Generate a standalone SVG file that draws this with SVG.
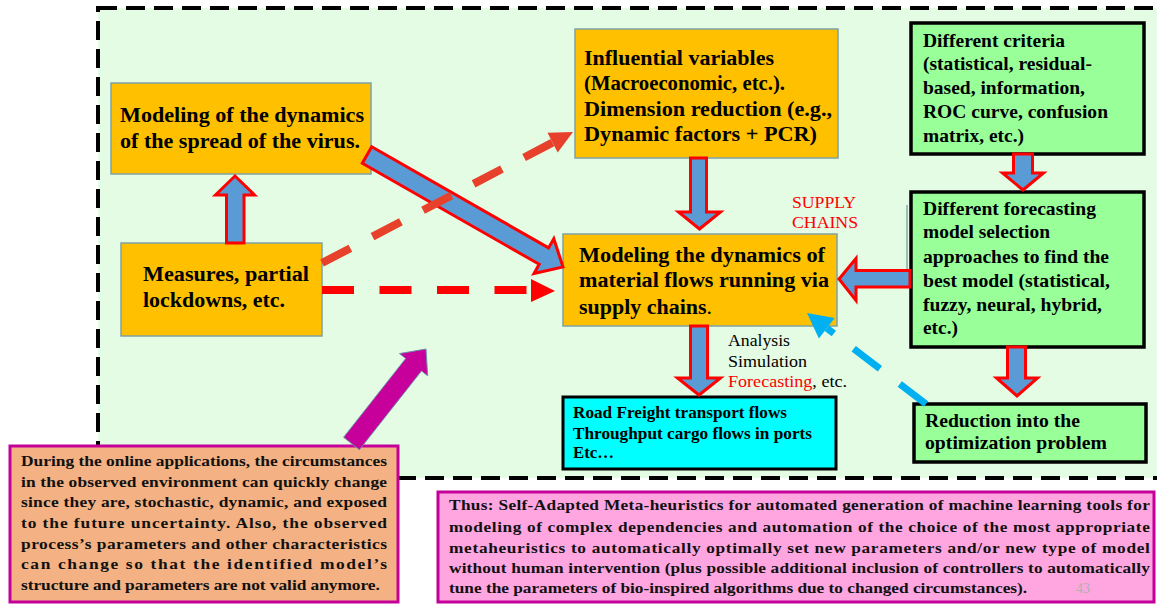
<svg xmlns="http://www.w3.org/2000/svg" width="1157" height="604" viewBox="0 0 1157 604">
<style>
.t{font-family:"Liberation Serif","Times New Roman",serif;font-weight:bold;fill:#000}
.p{font-family:"Liberation Serif","Times New Roman",serif;font-weight:bold;fill:#111}
.r{font-family:"Liberation Serif","Times New Roman",serif;font-weight:normal}
.f20{font-size:20px}
.f19{font-size:19px}
.f16{font-size:16.5px}
.org{fill:#ffc000;stroke:#7fa3a3;stroke-width:1.5}
.grn{fill:#99ff99;stroke:#000;stroke-width:3.5}
.blk{fill:#5b9bd5;stroke:#ff0000;stroke-width:3;stroke-linejoin:miter}
</style>
<rect x="98" y="8" width="1100" height="470" fill="#e4fbe4" stroke="#000" stroke-width="4" stroke-dasharray="19 9"/>
<line x1="907" y1="205" x2="907" y2="288" stroke="#8aaaaa" stroke-width="1.5"/>

<g id="virus">
<rect class="org" x="111" y="83" width="260" height="91"/>
<text class="t f20" x="120" y="122" textLength="244" lengthAdjust="spacingAndGlyphs">Modeling of the dynamics</text>
<text class="t f20" x="120" y="148" textLength="240" lengthAdjust="spacingAndGlyphs">of the spread of the virus.</text>
</g>

<g id="measures">
<rect class="org" x="121" y="243" width="201" height="93"/>
<text class="t f20" x="143" y="281" textLength="166" lengthAdjust="spacingAndGlyphs">Measures, partial</text>
<text class="t f20" x="143" y="307" textLength="142" lengthAdjust="spacingAndGlyphs">lockdowns, etc.</text>
</g>

<g id="influential">
<rect class="org" x="575" y="29" width="263" height="129"/>
<text class="t f20" x="584" y="65" textLength="190" lengthAdjust="spacingAndGlyphs">Influential variables</text>
<text class="t f20" x="584" y="90" textLength="201" lengthAdjust="spacingAndGlyphs">(Macroeconomic, etc.).</text>
<text class="t f20" x="584" y="116" textLength="248" lengthAdjust="spacingAndGlyphs">Dimension reduction (e.g.,</text>
<text class="t f20" x="584" y="141" textLength="233" lengthAdjust="spacingAndGlyphs">Dynamic factors + PCR)</text>
</g>

<g id="flows">
<rect class="org" x="563" y="234" width="274" height="92"/>
<text class="t f20" x="579" y="262" textLength="246" lengthAdjust="spacingAndGlyphs">Modeling the dynamics of</text>
<text class="t f20" x="579" y="287" textLength="250" lengthAdjust="spacingAndGlyphs">material flows running via</text>
<text class="t f20" x="579" y="314" textLength="133" lengthAdjust="spacingAndGlyphs">supply chains<tspan font-weight="normal">.</tspan></text>
</g>

<g id="criteria">
<rect class="grn" x="911" y="23" width="233" height="131"/>
<text class="t f19" x="923" y="47" textLength="142" lengthAdjust="spacingAndGlyphs">Different criteria</text>
<text class="t f19" x="923" y="70" textLength="169" lengthAdjust="spacingAndGlyphs">(statistical, residual-</text>
<text class="t f19" x="923" y="94" textLength="162" lengthAdjust="spacingAndGlyphs">based, information,</text>
<text class="t f19" x="923" y="118" textLength="185" lengthAdjust="spacingAndGlyphs">ROC curve, confusion</text>
<text class="t f19" x="923" y="142" textLength="101" lengthAdjust="spacingAndGlyphs">matrix, etc.)</text>
</g>

<g id="forecasting">
<rect class="grn" x="911" y="192" width="233" height="155"/>
<text class="t f19" x="923" y="215" textLength="173" lengthAdjust="spacingAndGlyphs">Different forecasting</text>
<text class="t f19" x="923" y="238" textLength="127" lengthAdjust="spacingAndGlyphs">model selection</text>
<text class="t f19" x="923" y="263" textLength="186" lengthAdjust="spacingAndGlyphs">approaches to find the</text>
<text class="t f19" x="923" y="287" textLength="187" lengthAdjust="spacingAndGlyphs">best model (statistical,</text>
<text class="t f19" x="923" y="311" textLength="179" lengthAdjust="spacingAndGlyphs">fuzzy, neural, hybrid,</text>
<text class="t f19" x="923" y="334" textLength="35" lengthAdjust="spacingAndGlyphs">etc.)</text>
</g>

<g id="reduction">
<rect class="grn" x="914" y="404" width="232" height="58"/>
<text class="t f19" x="925" y="427" textLength="155" lengthAdjust="spacingAndGlyphs">Reduction into the</text>
<text class="t f19" x="925" y="449" textLength="182" lengthAdjust="spacingAndGlyphs">optimization problem</text>
</g>

<g id="road">
<rect x="563" y="397" width="273" height="72" fill="#00ffff" stroke="#000" stroke-width="3"/>
<text class="t f16" x="573" y="418" textLength="214" lengthAdjust="spacingAndGlyphs">Road Freight transport flows</text>
<text class="t f16" x="573" y="439" textLength="239" lengthAdjust="spacingAndGlyphs">Throughput cargo flows in ports</text>
<text class="t f16" x="573" y="458" textLength="41" lengthAdjust="spacingAndGlyphs">Etc…</text>
</g>

<g id="supply-label">
<text class="r" font-size="16" fill="#ff0000" x="792" y="208" textLength="64" lengthAdjust="spacingAndGlyphs">SUPPLY</text>
<text class="r" font-size="16" fill="#ff0000" x="792" y="228" textLength="66" lengthAdjust="spacingAndGlyphs">CHAINS</text>
</g>

<g id="analysis-label">
<text class="r" font-size="16" fill="#000" x="728" y="346" textLength="62" lengthAdjust="spacingAndGlyphs">Analysis</text>
<text class="r" font-size="16" fill="#000" x="728" y="367" textLength="79" lengthAdjust="spacingAndGlyphs">Simulation</text>
<text class="r" font-size="16" fill="#000" x="728" y="387" textLength="119" lengthAdjust="spacingAndGlyphs"><tspan fill="#ff0000">Forecasting</tspan>, etc.</text>
</g>

<g id="during">
<rect x="10" y="446" width="388" height="156" fill="#f4b183" stroke="#c4009a" stroke-width="3"/>
<g transform="scale(1.2,1)" class="p" font-size="14.5">
<text x="17.5" y="466" textLength="305" lengthAdjust="spacing">During the online applications, the circumstances</text>
<text x="17.5" y="487" textLength="305" lengthAdjust="spacing">in the observed environment can quickly change</text>
<text x="17.5" y="507" textLength="305" lengthAdjust="spacing">since they are, stochastic, dynamic, and exposed</text>
<text x="17.5" y="528" textLength="305" lengthAdjust="spacing">to the future uncertainty. Also, the observed</text>
<text x="17.5" y="549" textLength="305" lengthAdjust="spacing">process’s parameters and other characteristics</text>
<text x="17.5" y="569" textLength="305" lengthAdjust="spacing">can change so that the identified model’s</text>
<text x="17.5" y="590" textLength="299" lengthAdjust="spacing">structure and parameters are not valid anymore.</text>
</g>
</g>

<g id="thus">
<rect x="438" y="492" width="716" height="110" fill="#ffa6e0" stroke="#c4009a" stroke-width="3"/>
<g transform="scale(1.2,1)" class="p" font-size="14.4">
<text x="374.2" y="510" textLength="584" lengthAdjust="spacing">Thus: Self-Adapted Meta-heuristics for automated generation of machine learning tools for</text>
<text x="374.2" y="532" textLength="584" lengthAdjust="spacing">modeling of complex dependencies and automation of the choice of the most appropriate</text>
<text x="374.2" y="553" textLength="584" lengthAdjust="spacing">metaheuristics to automatically optimally set new parameters and/or new type of model</text>
<text x="374.2" y="573" textLength="584" lengthAdjust="spacing">without human intervention (plus possible additional inclusion of controllers to automatically</text>
<text x="374.2" y="593" textLength="481.7" lengthAdjust="spacing">tune the parameters of bio-inspired algorithms due to changed circumstances).</text>
</g>
<text class="r" font-size="14" fill="#b0b0b0" x="1076" y="593">43</text>
</g>

<g id="connectors">
<polygon class="blk" points="226.5,243 226.5,195 215.5,195 235,176 254.5,195 244,195 244,243"/>
<polygon class="blk" points="371.7,146.8 548.6,247.9 553.8,238.7 563,267 534,273.5 539.2,264.3 362.3,163.2"/>
<polygon class="blk" points="690.5,158 706.5,158 706.5,212 720.5,212 699.5,229 678.5,212 690.5,212"/>
<polygon class="blk" points="690.5,326 707.5,326 707.5,378 720.5,378 699,395 677.5,378 690.5,378"/>
<polygon class="blk" points="1013.5,154 1032.5,154 1032.5,173 1043.5,173 1023,190 1002.5,173 1013.5,173"/>
<polygon class="blk" points="1007.5,347 1025.5,347 1025.5,378 1037.5,378 1017,396 996.5,378 1007.5,378"/>
<polygon class="blk" points="910,270.5 856,270.5 856,258.5 839,279 856,300.5 856,287 910,287"/>
<line x1="322" y1="290" x2="532" y2="290" stroke="#ff0000" stroke-width="8" stroke-dasharray="32 25.5"/>
<polygon fill="#ff0000" points="531,279 555,291 531,302"/>
<line x1="322" y1="263" x2="552.6" y2="142.6" stroke="#e8412b" stroke-width="8" stroke-dasharray="32 25"/>
<polygon fill="#e8412b" points="573,132 547.5,132.8 557.7,152.4"/>
<line x1="926" y1="404" x2="826.8" y2="328.2" stroke="#00b0f0" stroke-width="7" stroke-dasharray="33 25"/>
<polygon fill="#00b0f0" points="807,313 834.7,317.9 818.9,338.5"/>
<polygon fill="#c8009b" stroke="#6f8fa8" stroke-width="1" points="343.6,437.3 405.7,358.5 399.5,353.6 426,349 427.7,375.8 421.5,370.9 359.4,449.7"/>
</g>
</svg>
